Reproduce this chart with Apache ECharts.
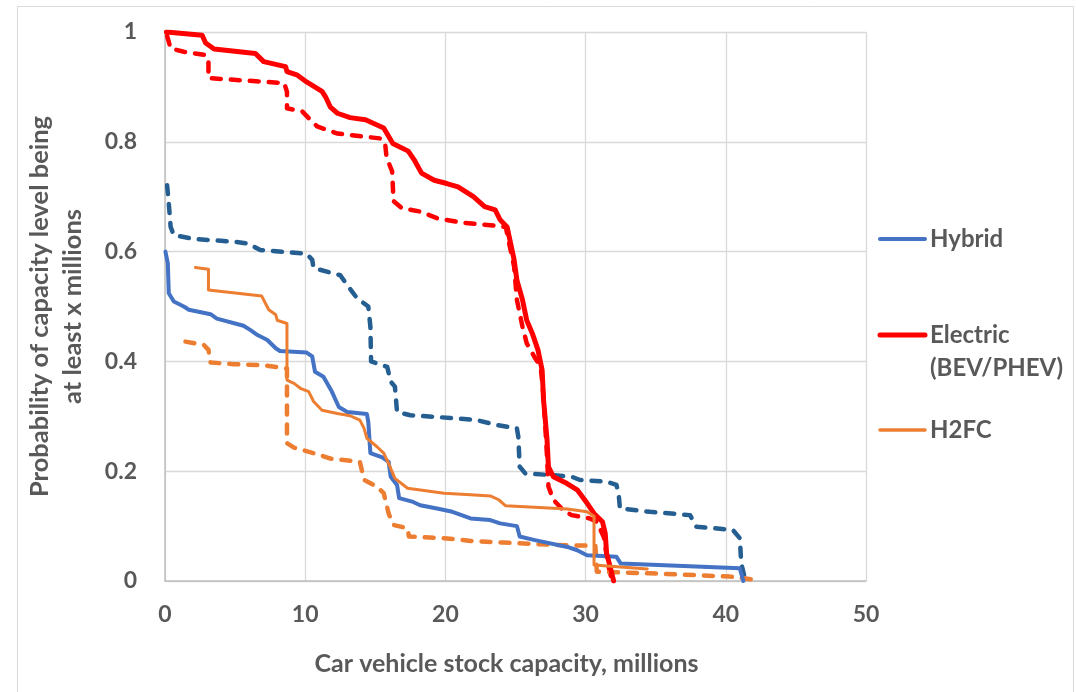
<!DOCTYPE html>
<html>
<head>
<meta charset="utf-8">
<script src="https://cdn.jsdelivr.net/npm/echarts@6/dist/echarts.min.js"></script>
<style>
  html, body { margin: 0; padding: 0; background: #ffffff; }
  #chart { width: 1076px; height: 692px; }
</style>
</head>
<body>
<div id="chart"></div>
<script>
// Exceedance curves: probability that car stock capacity is at least x millions.
// Each curve is a list of [capacity (millions), probability] points.

const xTicks = [0, 10, 20, 30, 40, 50];
const yTicks = [0, 0.2, 0.4, 0.6, 0.8, 1];

const legendNames = ['Hybrid', 'Electric\n(BEV/PHEV)', 'H2FC'];

const hybridSolid = [
  [0.03,0.600],[0.2,0.579],[0.27,0.524],[0.63,0.509],[1.34,0.500],[1.7,0.494],[3.25,0.486],
  [3.7,0.478],[5.6,0.465],[6.1,0.457],[6.6,0.448],[7.3,0.439],[7.9,0.424],[8.2,0.419],
  [10.1,0.416],[10.5,0.409],[10.7,0.381],[11.3,0.372],[11.9,0.345],[12.4,0.317],[13.0,0.308],
  [14.4,0.304],[14.5,0.290],[14.65,0.233],[15.5,0.225],[15.95,0.217],[16.1,0.190],[16.55,0.175],
  [16.7,0.151],[17.7,0.144],[18.2,0.138],[19.4,0.132],[20.5,0.126],[21.8,0.114],[23.2,0.111],
  [23.9,0.105],[25.1,0.100],[25.3,0.081],[26.3,0.075],[28.7,0.062],[29.4,0.056],[30.1,0.047],
  [32.2,0.044],[32.5,0.032],[41.0,0.023],[41.25,0.0]
];

const hybridDashed = [
  [0.15,0.721],[0.27,0.688],[0.4,0.645],[0.63,0.630],[2.05,0.623],[4.9,0.618],[5.86,0.615],
  [6.8,0.603],[10.1,0.596],[10.5,0.585],[10.6,0.570],[12.5,0.557],[13.0,0.539],[13.7,0.515],
  [14.5,0.500],[14.65,0.463],[14.7,0.400],[15.85,0.390],[16.1,0.363],[16.4,0.354],[16.55,0.308],
  [17.5,0.302],[20.35,0.297],[22.25,0.293],[23.7,0.284],[25.1,0.278],[25.2,0.263],[25.3,0.208],
  [25.7,0.196],[27.5,0.193],[29.0,0.190],[29.6,0.184],[31.5,0.181],[32.2,0.175],[32.35,0.160],
  [32.45,0.132],[34.6,0.126],[37.45,0.120],[37.9,0.099],[40.5,0.093],[41.0,0.078],[41.1,0.032],
  [41.4,0.0]
];

const electricSolid = [
  [0.1,1.0],[2.65,0.994],[2.9,0.98],[3.5,0.969],[6.45,0.961],[7.04,0.946],[8.6,0.937],
  [8.7,0.928],[9.4,0.922],[10.1,0.909],[11.2,0.892],[11.45,0.882],[11.8,0.863],[12.3,0.852],
  [13.2,0.844],[14.3,0.840],[15.6,0.825],[16.25,0.797],[17.35,0.783],[17.8,0.766],[18.3,0.743],
  [19.2,0.730],[20.1,0.724],[20.9,0.718],[22.0,0.700],[22.8,0.682],[23.55,0.676],[23.9,0.658],
  [24.4,0.645],[24.6,0.621],[24.9,0.585],[25.1,0.548],[25.5,0.512],[25.8,0.475],[26.2,0.451],
  [26.6,0.421],[26.9,0.384],[27.0,0.330],[27.25,0.257],[27.35,0.208],[27.7,0.190],[28.65,0.178],
  [29.4,0.166],[30.1,0.142],[30.6,0.123],[31.2,0.108],[31.4,0.087],[31.5,0.05],[31.75,0.026],
  [32.0,0.0]
];

const electricDashed = [
  [0.15,0.993],[0.4,0.970],[1.34,0.964],[2.9,0.958],[3.1,0.949],[3.1,0.916],[4.9,0.913],
  [8.5,0.907],[8.7,0.891],[8.7,0.861],[9.8,0.855],[10.25,0.843],[10.85,0.828],[12.3,0.815],
  [15.4,0.806],[15.7,0.797],[15.8,0.772],[16.2,0.746],[16.3,0.692],[16.9,0.679],[18.2,0.673],
  [19.4,0.661],[21.1,0.653],[23.2,0.648],[24.3,0.645],[24.5,0.621],[24.9,0.573],[25.1,0.512],
  [25.5,0.463],[25.8,0.433],[26.4,0.406],[26.8,0.390],[27.0,0.336],[27.25,0.226],[27.35,0.172],
  [27.7,0.148],[28.4,0.129],[29.0,0.120],[30.3,0.114],[30.8,0.108],[31.3,0.080],[31.6,0.030],
  [31.9,0.0]
];

const h2fcSolid = [
  [2.17,0.571],[3.1,0.568],[3.1,0.530],[6.9,0.519],[7.16,0.506],[7.4,0.494],[7.9,0.485],
  [8.0,0.475],[8.7,0.469],[8.7,0.366],[9.2,0.360],[9.66,0.351],[10.25,0.345],[10.6,0.327],
  [11.2,0.311],[12.3,0.305],[13.2,0.301],[13.9,0.293],[14.2,0.278],[14.4,0.260],[15.1,0.245],
  [15.6,0.233],[15.95,0.214],[16.4,0.187],[17.3,0.169],[19.9,0.160],[21.8,0.157],[23.2,0.155],
  [23.8,0.148],[24.3,0.137],[28.7,0.131],[30.1,0.126],[30.6,0.118],[30.6,0.029],[34.4,0.022]
];

const h2fcDashed = [
  [1.46,0.436],[2.77,0.430],[3.1,0.421],[3.25,0.398],[4.9,0.395],[7.04,0.393],[8.7,0.387],
  [8.7,0.251],[9.2,0.243],[10.85,0.231],[11.8,0.223],[13.9,0.217],[14.2,0.184],[15.1,0.172],
  [15.6,0.160],[15.95,0.123],[16.3,0.102],[17.3,0.096],[17.4,0.081],[19.9,0.078],[21.8,0.073],
  [24.15,0.070],[27.5,0.066],[30.7,0.064],[30.8,0.017],[34.6,0.014],[40.3,0.008],[41.85,0.003]
];

const COLORS = {
  hybrid: '#4472C4',
  hybridAlt: '#255E91',
  electric: '#FF0000',
  h2fc: '#ED7D31'
};
const TEXT = '#595959';
const FONT = 'Lato';

function curve(name, data, color, width, dashed) {
  return {
    name: name,
    type: 'line',
    data: data,
    showSymbol: false,
    symbol: 'none',
    smooth: false,
    silent: true,
    z: dashed ? 3 : 4,
    lineStyle: {
      color: color,
      width: width,
      type: dashed ? [9, 10] : 'solid',
      cap: 'round',
      join: 'round'
    }
  };
}

const chart = echarts.init(document.getElementById('chart'), null, { renderer: 'canvas' });

// Legend drawn as short line swatches with bold labels at the right of the plot.
const legendRows = [
  { name: legendNames[0], color: COLORS.hybrid, y: 239, w: 4 },
  { name: legendNames[1], color: COLORS.electric, y: 335, w: 5 },
  { name: legendNames[2], color: COLORS.h2fc, y: 430, w: 3.5 }
];
const legendGraphics = [];
legendRows.forEach(function (r) {
  legendGraphics.push({
    type: 'line',
    shape: { x1: 880, y1: r.y, x2: 925, y2: r.y },
    style: { stroke: r.color, lineWidth: r.w, lineCap: 'round' },
    silent: true
  });
  legendGraphics.push({
    type: 'text',
    x: 930,
    y: r.y - 16.5,
    style: {
      text: r.name,
      fill: TEXT,
      font: 'bold 24px ' + FONT,
      lineHeight: 33,
      textVerticalAlign: 'top'
    },
    silent: true
  });
});

chart.setOption({
  animation: false,
  backgroundColor: '#ffffff',
  grid: { left: 165, right: 210, top: 32, bottom: 111, containLabel: false },
  xAxis: {
    type: 'value',
    min: xTicks[0],
    max: xTicks[xTicks.length - 1],
    interval: 10,
    name: 'Car vehicle stock capacity, millions',
    nameLocation: 'middle',
    nameGap: 70,
    nameTextStyle: { color: TEXT, fontFamily: FONT, fontWeight: 'bold', fontSize: 25, padding: [0, 18, 0, 0] },
    axisLine: { show: true, lineStyle: { color: '#BFBFBF', width: 1.5 } },
    axisTick: { show: false },
    axisLabel: { color: TEXT, fontFamily: FONT, fontWeight: 'bold', fontSize: 23, margin: 22 },
    splitLine: { show: true, lineStyle: { color: '#D9D9D9', width: 1.3 } }
  },
  yAxis: {
    type: 'value',
    min: yTicks[0],
    max: yTicks[yTicks.length - 1],
    interval: 0.2,
    name: 'Probability of capacity level being\nat least x millions',
    nameLocation: 'middle',
    nameRotate: 90,
    nameGap: 76,
    nameTextStyle: { color: TEXT, fontFamily: FONT, fontWeight: 'bold', fontSize: 25.5, lineHeight: 33 },
    axisLine: { show: true, lineStyle: { color: '#BFBFBF', width: 1.5 } },
    axisTick: { show: false },
    axisLabel: {
      color: TEXT, fontFamily: FONT, fontWeight: 'bold', fontSize: 23, margin: 28,
      formatter: function (v) { return String(Math.round(v * 10) / 10); }
    },
    splitLine: { show: true, lineStyle: { color: '#D9D9D9', width: 1.3 } }
  },
  graphic: [
    {
      type: 'rect',
      shape: { x: 17.5, y: 6.5, width: 1056, height: 700 },
      style: { fill: 'none', stroke: '#D9D9D9', lineWidth: 1 },
      silent: true,
      z: -10
    }
  ].concat(legendGraphics),
  series: [
    curve('Hybrid', hybridSolid, COLORS.hybrid, 4, false),
    curve('Hybrid (dashed)', hybridDashed, COLORS.hybridAlt, 4.5, true),
    curve('Electric', electricSolid, COLORS.electric, 5, false),
    curve('Electric (dashed)', electricDashed, COLORS.electric, 4.5, true),
    curve('H2FC', h2fcSolid, COLORS.h2fc, 3, false),
    curve('H2FC (dashed)', h2fcDashed, COLORS.h2fc, 4.5, true)
  ]
});
</script>
</body>
</html>
